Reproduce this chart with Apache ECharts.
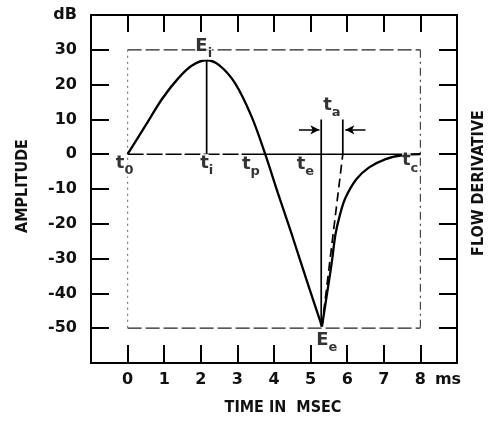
<!DOCTYPE html>
<html><head><meta charset="utf-8">
<script src="https://cdn.jsdelivr.net/npm/echarts/dist/echarts.min.js"></script>
<style>html,body{margin:0;padding:0;background:#fff}#c{width:495px;height:421px}</style>
</head><body><div id="c"></div>
<script>
// ---- axis scales ----
const timeMin = -1, timeMax = 9, timeStep = 1;
const ampMin = -60, ampMax = 40, ampStep = 10;

// ---- glottal flow derivative curve (time ms, amplitude dB) ----
const riseFallTime = [0, 0.5, 0.95, 1.4, 1.76, 2.16, 2.5, 2.93, 3.38, 3.76, 4.1, 4.5, 4.9, 5.31];
const riseFallAmp  = [0, 8.4, 16, 22, 25.5, 27, 25.6, 20.5, 11, 0, -11, -23.5, -36.5, -49.5];
const returnTime = [5.31, 5.45, 5.58, 5.68, 5.8, 5.95, 6.25, 6.6, 7.05, 7.5, 8];
const returnAmp  = [-49.5, -40, -31, -23, -17.5, -12.6, -7.2, -3.8, -1.4, -0.3, 0];

// ---- construction lines ----
const tangentTime = [5.31, 5.88], tangentAmp = [-49.5, 0];
const taMarkTime = [5.88, 5.88], taMarkAmp = [0, 10];
const teLineTime = [5.29, 5.29], teLineAmp = [-49.5, 10];
const tiLineTime = [2.16, 2.16], tiLineAmp = [0, 27];
const zeroDashTime = [0, 3.4], zeroSolidTime = [3.4, 8], zeroAmp = [0, 0];
const boxTime = [0, 8], boxAmpTop = 30, boxAmpBottom = -50;
const arrowAmp = 7;
const arrowLeftTime = [4.68, 5.24];
const arrowRightTime = [6.5, 5.95];

// ---- annotation labels ----
const labelMain = ['t', 't', 't', 't', 't', 't', 'E', 'E'];
const labelSub  = ['0', 'i', 'p', 'e', 'c', 'a', 'i', 'e'];
const labelTime = [-0.08, 2.16, 3.37, 4.86, 7.72, 5.58, 2.08, 5.44];
const labelAmp  = [-3.2, -3.2, -3.6, -3.6, -2.6, 13.4, 30.4, -54.2];

// ---- tick labels ----
const timeUnit = 'ms', ampUnit = 'dB';

const FONT = 'DejaVu Sans';
const NARROW = '"DejaVu Sans Condensed", "Liberation Sans Narrow", "DejaVu Sans", sans-serif';
const INK = '#000';
const pairs = (xs, ys) => xs.map((x, i) => [x, ys[i]]);
const lineSeries = (data, style, extra) => Object.assign({
  type: 'line', data: data, showSymbol: false, symbol: 'none', silent: true,
  lineStyle: Object.assign({ color: INK, width: 1.5 }, style), z: 3
}, extra || {});
const tickFont = { fontFamily: FONT, fontSize: 16, fontWeight: 'bold', color: '#111' };
const nameFont = { fontFamily: NARROW, fontSize: 16, fontWeight: 'bold', color: '#111' };

const option = {
  backgroundColor: '#fff',
  animation: false,
  grid: { left: 91, right: 33, top: 15, bottom: 57, containLabel: false },
  xAxis: [{
    type: 'value', min: timeMin, max: timeMax, interval: timeStep, position: 'bottom',
    name: 'TIME IN  MSEC', nameLocation: 'middle', nameGap: 37,
    nameTextStyle: Object.assign({ padding: [0, 0, 0, 18] }, nameFont),
    axisLine: { show: true, onZero: false, lineStyle: { color: INK, width: 2 } },
    axisTick: { show: true, inside: true, length: 18, lineStyle: { color: INK, width: 2 } },
    axisLabel: Object.assign({
      margin: 9,
      formatter: v => v === timeMin ? '' : (v === timeMax ? '{u|' + timeUnit + '}' : String(v)),
      rich: { u: Object.assign({ padding: [0, 18, 0, 0] }, tickFont) }
    }, tickFont),
    splitLine: { show: false }
  }, {
    type: 'value', min: timeMin, max: timeMax, interval: timeStep, position: 'top',
    axisLine: { show: true, onZero: false, lineStyle: { color: INK, width: 2 } },
    axisTick: { show: true, inside: true, length: 17, lineStyle: { color: INK, width: 2 } },
    axisLabel: { show: false }, splitLine: { show: false }
  }],
  yAxis: [{
    type: 'value', min: ampMin, max: ampMax, interval: ampStep, position: 'left',
    name: 'AMPLITUDE', nameLocation: 'middle', nameGap: 60, nameRotate: 90,
    nameTextStyle: Object.assign({ padding: [0, 0, 0, 6] }, nameFont),
    axisLine: { show: true, onZero: false, lineStyle: { color: INK, width: 2 } },
    axisTick: { show: true, inside: true, length: 18, lineStyle: { color: INK, width: 2 } },
    axisLabel: Object.assign({
      margin: 14,
      formatter: v => v === ampMin ? '' : (v === ampMax ? ampUnit : String(v))
    }, tickFont),
    splitLine: { show: false }
  }, {
    type: 'value', min: ampMin, max: ampMax, interval: ampStep, position: 'right',
    name: 'FLOW DERIVATIVE', nameLocation: 'middle', nameGap: 14, nameRotate: 90,
    nameTextStyle: Object.assign({ padding: [0, 0, 0, 12] }, nameFont),
    axisLine: { show: true, onZero: false, lineStyle: { color: INK, width: 2 } },
    axisTick: { show: true, inside: true, length: 18, lineStyle: { color: INK, width: 2 } },
    axisLabel: { show: false }, splitLine: { show: false }
  }],
  series: [
    // inner reference box
    lineSeries(pairs(boxTime, [boxAmpTop, boxAmpTop]), { width: 1.3, type: [14, 4], color: '#222' }),
    lineSeries(pairs(boxTime, [boxAmpBottom, boxAmpBottom]), { width: 1.3, type: [14, 4], color: '#222' }),
    lineSeries(pairs([boxTime[0], boxTime[0]], [boxAmpTop, boxAmpBottom]), { width: 1.2, type: [2, 4], color: '#777' }),
    lineSeries(pairs([boxTime[1], boxTime[1]], [boxAmpTop, boxAmpBottom]), { width: 1.2, type: [8, 4, 2, 4], color: '#444' }),
    // zero line
    lineSeries(pairs(zeroDashTime, zeroAmp), { width: 1.4, type: [16, 3] }),
    lineSeries(pairs(zeroSolidTime, zeroAmp), { width: 1.4 }),
    // vertical markers
    lineSeries(pairs(tiLineTime, tiLineAmp), { width: 1.7 }),
    lineSeries(pairs(teLineTime, teLineAmp), { width: 1.7 }),
    lineSeries(pairs(taMarkTime, taMarkAmp), { width: 1.7 }),
    lineSeries(pairs(tangentTime, tangentAmp), { width: 1.7, type: [9, 5] }),
    // main curve
    lineSeries(pairs(riseFallTime, riseFallAmp), { width: 2.3 }, { smooth: 0.35, z: 4 }),
    lineSeries(pairs(returnTime, returnAmp), { width: 2.3 }, { smooth: 0.35, z: 4 }),
    // arrows
    {
      type: 'line', data: [], silent: true,
      markLine: {
        silent: true, symbol: ['none', 'arrow'], symbolSize: [7, 9],
        label: { show: false },
        lineStyle: { color: INK, width: 1.5, type: 'solid' },
        data: [
          [{ coord: [arrowLeftTime[0], arrowAmp] }, { coord: [arrowLeftTime[1], arrowAmp] }],
          [{ coord: [arrowRightTime[0], arrowAmp] }, { coord: [arrowRightTime[1], arrowAmp] }]
        ]
      }
    },
    // annotation labels
    {
      type: 'scatter', symbolSize: 0, silent: true, z: 6,
      data: labelMain.map((m, i) => ({ value: [labelTime[i], labelAmp[i]], name: m + '|' + labelSub[i] })),
      label: {
        show: true, position: 'inside',
        formatter: p => { const s = p.name.split('|'); return '{m|' + s[0] + '}{s|' + s[1] + '}'; },
        rich: {
          m: { fontFamily: FONT, fontSize: 18, fontWeight: 'bold', color: '#000', verticalAlign: 'bottom', padding: [0, 0, 5, 0], backgroundColor: '#fff' },
          s: { fontFamily: FONT, fontSize: 13, fontWeight: 'bold', color: '#000', verticalAlign: 'bottom', backgroundColor: '#fff' }
        }
      }
    }
  ]
};

const chart = echarts.init(document.getElementById('c'), null, { renderer: 'canvas' });
chart.setOption(option);
</script></body></html>
